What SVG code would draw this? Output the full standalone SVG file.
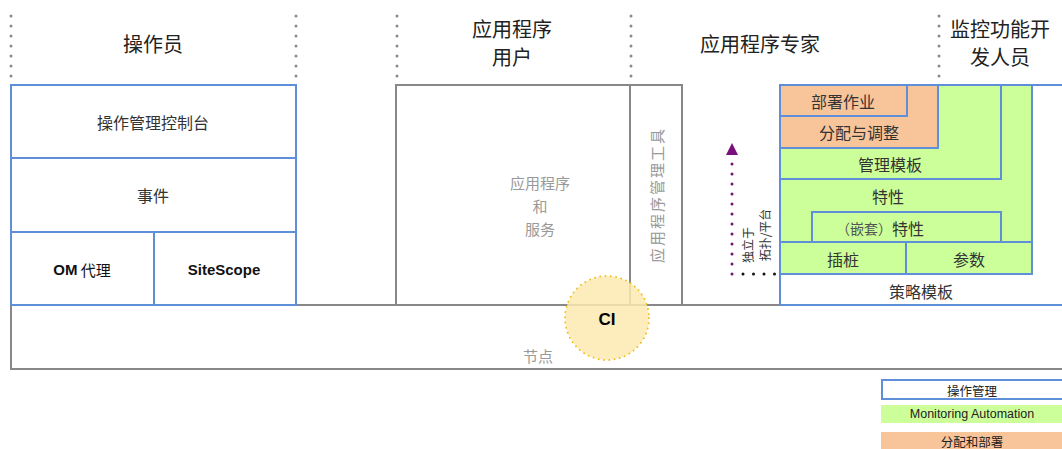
<svg xmlns="http://www.w3.org/2000/svg" width="1062" height="449" viewBox="0 0 1062 449">
<defs>
<style>
.cjk{font-family:"Noto Sans CJK SC","Liberation Sans",sans-serif}
.lat{font-family:"Liberation Sans","Noto Sans CJK SC",sans-serif}
.hdr{font-size:20px;fill:#222;text-anchor:middle}
.t{font-size:16px;fill:#333;text-anchor:middle;dominant-baseline:central}
.g{font-size:15px;fill:#999;text-anchor:middle;dominant-baseline:central}
.blue{fill:none;stroke:#5f8fd8;stroke-width:2}
.gray{fill:none;stroke:#888;stroke-width:2}
.grn{fill:#ccff99;stroke:#5f8fd8;stroke-width:2}
.org{fill:#f8c49a;stroke:#5f8fd8;stroke-width:2}
.sep{stroke:#8a8a8a;stroke-width:3;stroke-linecap:round;stroke-dasharray:0 10}
.leg{font-size:12.5px;fill:#222;text-anchor:middle;dominant-baseline:central}
</style>
<marker id="ah" viewBox="0 0 10 10" refX="0" refY="5" markerWidth="12" markerHeight="12" markerUnits="userSpaceOnUse" orient="auto">
<path d="M0,0 L10,5 L0,10 Z" fill="#7a0f7a"/>
</marker>
</defs>

<g id="separators">
<line class="sep" x1="11" y1="16" x2="11" y2="78"/>
<line class="sep" x1="296" y1="16" x2="296" y2="78"/>
<line class="sep" x1="397" y1="16" x2="397" y2="78"/>
<line class="sep" x1="631" y1="16" x2="631" y2="78"/>
<line class="sep" x1="939" y1="16" x2="939" y2="78"/>
</g>

<g id="headers" class="cjk">
<text class="hdr" x="153" y="52">操作员</text>
<text class="hdr" x="512" y="37">应用程序</text>
<text class="hdr" x="512" y="65">用户</text>
<text class="hdr" x="760" y="52">应用程序专家</text>
<text class="hdr" x="1000" y="37">监控功能开</text>
<text class="hdr" x="1000" y="65">发人员</text>
</g>

<g id="node-bar">
<rect class="gray" x="11" y="305" width="1060" height="64"/>
<text class="g cjk" x="538" y="355">节点</text>
</g>

<g id="operator">
<rect class="blue" x="11" y="85" width="285" height="220"/>
<line class="blue" x1="11" y1="158" x2="296" y2="158"/>
<line class="blue" x1="11" y1="232" x2="296" y2="232"/>
<line class="blue" x1="154" y1="232" x2="154" y2="305"/>
<text class="t cjk" x="153" y="122">操作管理控制台</text>
<text class="t cjk" x="153" y="195">事件</text>
<text class="t" x="82" y="269" style="font-size:15px;fill:#111"><tspan class="lat" font-weight="bold">OM</tspan><tspan class="cjk"> 代理</tspan></text>
<text class="t lat" x="224" y="269" style="font-size:15px;fill:#111;font-weight:bold">SiteScope</text>
</g>

<g id="app-user">
<rect class="gray" x="396" y="85" width="286" height="220"/>
<line class="gray" x1="630" y1="85" x2="630" y2="305"/>
<text class="g cjk" x="540" y="182">应用程序</text>
<text class="g cjk" x="540" y="205">和</text>
<text class="g cjk" x="540" y="228">服务</text>
<text class="g cjk" x="0" y="0" transform="translate(656,195) rotate(-90)" style="letter-spacing:2px">应用程序管理工具</text>
</g>

<g id="monitoring">
<rect class="blue" x="780" y="85" width="290" height="220" style="fill:#fff"/>
<rect class="grn" x="780" y="85" width="252" height="157"/>
<rect class="grn" x="812" y="212" width="189" height="30"/>
<rect class="grn" x="780" y="242" width="126" height="32"/>
<rect class="grn" x="906" y="242" width="126" height="32"/>
<rect class="grn" x="780" y="85" width="221" height="94"/>
<rect class="org" x="780" y="85" width="158" height="63"/>
<rect class="org" x="780" y="85" width="127" height="31"/>
<text class="t cjk" x="843" y="101">部署作业</text>
<text class="t cjk" x="859" y="132">分配与调整</text>
<text class="t cjk" x="890" y="164">管理模板</text>
<text class="t cjk" x="888" y="196">特性</text>
<text class="t cjk" x="880" y="228"><tspan style="fill:#555;font-size:14px">（嵌套）</tspan>特性</text>
<text class="t cjk" x="843" y="259">插桩</text>
<text class="t cjk" x="969" y="259">参数</text>
<text class="t cjk" x="921" y="291">策略模板</text>
</g>

<g id="connectors">
<line x1="732" y1="274" x2="732" y2="155" stroke="#7a0f7a" stroke-width="3" stroke-linecap="round" stroke-dasharray="0 10" marker-end="url(#ah)"/>
<line x1="743" y1="274" x2="775" y2="274" stroke="#111" stroke-width="3" stroke-linecap="round" stroke-dasharray="0 10.5"/>
</g>

<g id="independent-label" class="cjk" style="font-size:12px;fill:#333">
<text x="0" y="0" text-anchor="middle" dominant-baseline="central" transform="translate(747,245) rotate(-90)">独立于</text>
<text x="0" y="0" text-anchor="middle" dominant-baseline="central" transform="translate(764,235) rotate(-90)">拓扑/平台</text>
</g>

<g id="ci">
<circle cx="607" cy="318" r="42" fill="#fdeab0" fill-opacity="0.85" stroke="#f0c020" stroke-width="2" stroke-linecap="round" stroke-dasharray="0 5.3"/>
<text class="lat" x="607" y="319" text-anchor="middle" dominant-baseline="central" style="font-size:17px;font-weight:bold;fill:#000">CI</text>
</g>

<g id="legend">
<rect x="882" y="380" width="190" height="19" fill="#fff" stroke="#5f8fd8" stroke-width="2"/>
<text class="leg cjk" x="972" y="390">操作管理</text>
<rect x="881" y="405" width="190" height="18" fill="#ccff99"/>
<text class="leg lat" x="972" y="414">Monitoring Automation</text>
<rect x="881" y="432" width="190" height="20" fill="#f8c49a"/>
<text class="leg cjk" x="972" y="441">分配和部署</text>
</g>
</svg>
